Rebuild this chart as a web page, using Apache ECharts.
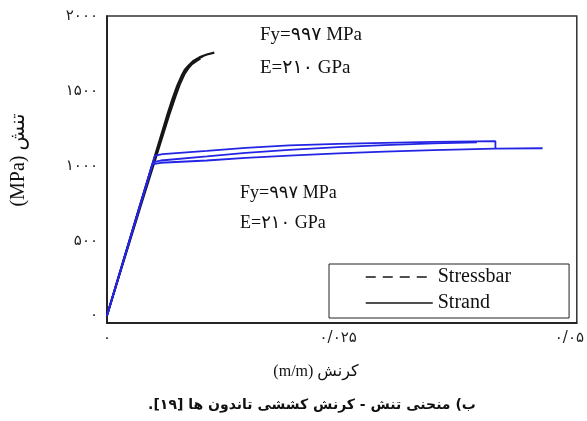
<!DOCTYPE html>
<html>
<head>
<meta charset="utf-8">
<script src="https://cdn.jsdelivr.net/npm/echarts@6/dist/echarts.min.js"></script>
<style>
  html, body { margin: 0; padding: 0; background: #fff; }
  #chart { width: 587px; height: 421px; }
</style>
</head>
<body>
<div id="chart"></div>
<script>
// Tick positions (strain in m/m, stress in MPa)
const strainTicks = [0, 0.025, 0.05];
const stressTicks = [0, 500, 1000, 1500, 2000];

// Strand test curves [strain, stress]
const strandA = [[0, 0], [0.0034, 700], [0.0066, 1355], [0.0071, 1450], [0.0076, 1535], [0.0081, 1605],
  [0.0084, 1640], [0.0088, 1668], [0.0093, 1698], [0.0100, 1724], [0.0108, 1743], [0.0116, 1755]];
const strandB = [[0, 0], [0.0035, 700], [0.0068, 1350], [0.0074, 1460], [0.0079, 1545], [0.0084, 1612],
  [0.0088, 1650], [0.0092, 1678], [0.0097, 1700], [0.0101, 1714]];
const strandC = [[0, 0], [0.0034, 700], [0.0067, 1355], [0.0072, 1450], [0.0077, 1538], [0.0082, 1608],
  [0.0086, 1648], [0.0091, 1680], [0.0097, 1708], [0.0104, 1732]];

// Stressbar test curves [strain, stress]
const stressbar1 = [[0, 0], [0.0052, 1068], [0.0060, 1078], [0.0108, 1100], [0.0150, 1120], [0.0197, 1136],
  [0.0250, 1146], [0.0300, 1153], [0.0353, 1159], [0.0420, 1164], [0.0420, 1118]];
const stressbar2 = [[0, 0], [0.0050, 1025], [0.0058, 1035], [0.0108, 1062], [0.0150, 1086], [0.0197, 1106],
  [0.0250, 1124], [0.0300, 1138], [0.0353, 1150], [0.0400, 1157]];
const stressbar3 = [[0, 0], [0.0049, 1010], [0.0058, 1020], [0.0108, 1035], [0.0150, 1052], [0.0197, 1068],
  [0.0250, 1083], [0.0300, 1095], [0.0353, 1105], [0.0420, 1114], [0.0471, 1117]];

// Annotation and title texts
const propsText = ['Fy=۹۹۷ MPa', 'E=۲۱۰ GPa'];
const xTitle = 'کرنش (m/m)';
const yTitle = 'تنش (MPa)';
const caption = 'ب) منحنی تنش - کرنش کششی تاندون ها [۱۹].';

const faDigits = '۰۱۲۳۴۵۶۷۸۹';
const toFa = s => String(s).replace(/[0-9]/g, d => faDigits[+d]).replace(/\./g, '/');
const rtl = s => '\u202B' + s + '\u202C';

const serif = '"Liberation Serif", "DejaVu Sans", serif';
const BLUE = '#2424e4';
const BLACK = '#161616';

const chart = echarts.init(document.getElementById('chart'), null, { renderer: 'canvas' });

function lineSeries(name, data, color, width) {
  return {
    name, type: 'line', data, symbol: 'none', showSymbol: false,
    lineStyle: { color, width }, itemStyle: { color }, z: name === 'Stressbar' ? 3 : 2
  };
}

const hiddenMarker = { opacity: 0, borderWidth: 0 };

chart.setOption({
  animation: false,
  backgroundColor: '#fff',
  grid: { left: 107, top: 16, right: 9, bottom: 98, show: true, borderColor: '#333', borderWidth: 1.5 },
  xAxis: {
    type: 'value', min: 0, max: 0.0508,
    axisLine: { show: true, onZero: false, lineStyle: { color: '#111', width: 1.5 } },
    axisTick: { show: false }, splitLine: { show: false },
    axisLabel: { customValues: strainTicks, formatter: v => toFa(v), margin: 8,
      fontFamily: '"DejaVu Sans"', fontSize: 15, color: '#222' }
  },
  yAxis: {
    type: 'value', min: -50, max: 2000,
    axisLine: { show: true, onZero: false, lineStyle: { color: '#111', width: 1.5 } },
    axisTick: { show: false }, splitLine: { show: false },
    axisLabel: { customValues: stressTicks, formatter: v => toFa(v), margin: 9,
      fontFamily: '"DejaVu Sans"', fontSize: 15, color: '#222' }
  },
  legend: {
    orient: 'vertical', left: 329, top: 264,
    padding: [3, 58, 5, 36], itemGap: 6, itemWidth: 67, itemHeight: 20,
    borderColor: '#222', borderWidth: 1, backgroundColor: '#fff',
    textStyle: { fontFamily: serif, fontSize: 20, color: '#111' },
    data: [
      { name: 'Stressbar', itemStyle: hiddenMarker, lineStyle: { color: BLACK, type: [10, 7], width: 1.5 } },
      { name: 'Strand', itemStyle: hiddenMarker, lineStyle: { color: BLACK, type: 'solid', width: 1.5 } }
    ]
  },
  series: [
    lineSeries('Strand', strandB, BLACK, 1.8),
    lineSeries('Strand', strandC, BLACK, 1.8),
    lineSeries('Strand', strandA, BLACK, 2.2),
    lineSeries('Stressbar', stressbar3, BLUE, 1.8),
    lineSeries('Stressbar', stressbar2, BLUE, 1.8),
    lineSeries('Stressbar', stressbar1, BLUE, 1.8)
  ],
  graphic: [
    { type: 'text', x: 260, y: 35, style: { text: propsText[0], font: '19px ' + serif, fill: '#111', verticalAlign: 'middle' } },
    { type: 'text', x: 260, y: 68, style: { text: propsText[1], font: '19px ' + serif, fill: '#111', verticalAlign: 'middle' } },
    { type: 'text', x: 240, y: 193, style: { text: propsText[0], font: '18px ' + serif, fill: '#111', verticalAlign: 'middle' } },
    { type: 'text', x: 240, y: 223, style: { text: propsText[1], font: '18px ' + serif, fill: '#111', verticalAlign: 'middle' } },
    { type: 'text', x: 316, y: 372, style: { text: rtl(xTitle), font: '16px ' + serif, fill: '#111', align: 'center', verticalAlign: 'middle' } },
    { type: 'text', x: 19, y: 160, rotation: Math.PI / 2, style: { text: rtl(yTitle), font: '20px ' + serif, fill: '#111', align: 'center', verticalAlign: 'middle' } },
    { type: 'text', x: 312, y: 405, style: { text: rtl(caption), font: 'bold 14px "DejaVu Sans"', fill: '#111', align: 'center', verticalAlign: 'middle' } }
  ]
});
</script>
</body>
</html>
